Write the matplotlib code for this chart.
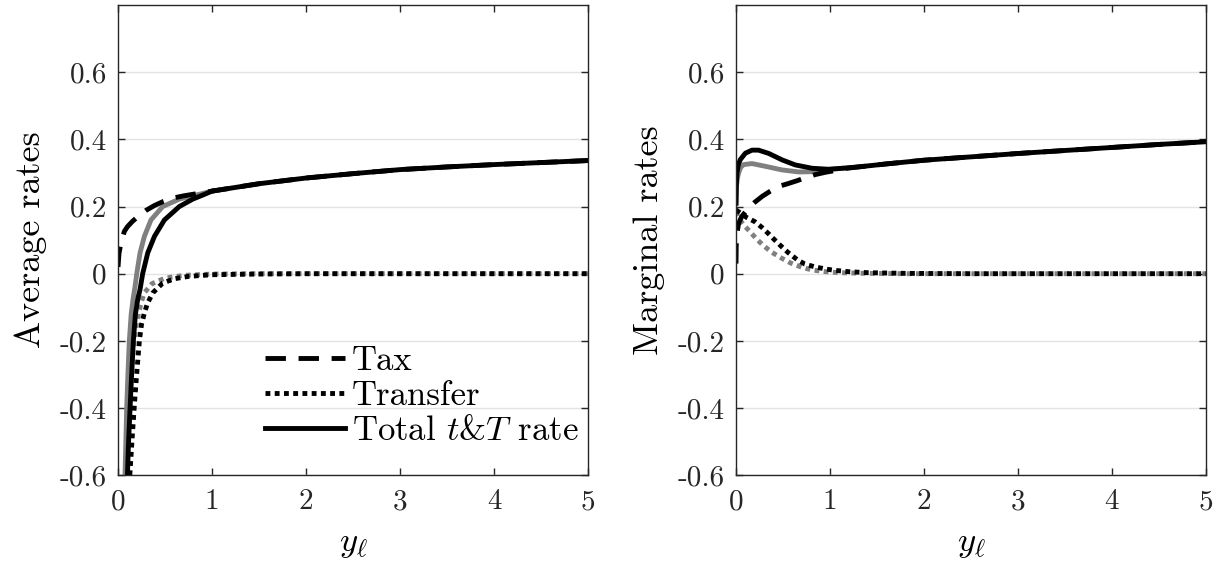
import matplotlib
matplotlib.use('Agg')
import matplotlib.pyplot as plt

plt.rcParams['font.family'] = 'cmr10'
plt.rcParams['mathtext.fontset'] = 'cm'
plt.rcParams['axes.unicode_minus'] = False
plt.rcParams['axes.formatter.use_mathtext'] = True

# ---- average rates (left panel) ----
avg_tax_x = [0.0, 0.01, 0.03, 0.067, 0.1, 0.15, 0.21, 0.3, 0.387, 0.48, 0.58, 0.7, 0.85, 1.0, 1.5, 2.0, 2.5, 3.0, 3.5, 4.0, 4.5, 5.0]
avg_tax_y = [0.02, 0.06, 0.09, 0.126, 0.14, 0.155, 0.17, 0.189, 0.203, 0.215, 0.225, 0.232, 0.239, 0.246, 0.268, 0.285, 0.298, 0.31, 0.318, 0.325, 0.331, 0.337]

avg_tot_x = [0.1, 0.11, 0.128, 0.142, 0.163, 0.185, 0.21, 0.234, 0.262, 0.316, 0.387, 0.493, 0.652, 0.794, 0.9, 1.0, 1.5, 2.0, 2.5, 3.0, 3.5, 4.0, 4.5, 5.0]
avg_tot_y = [-0.6, -0.514, -0.4, -0.315, -0.2, -0.12, -0.075, -0.047, 0.0, 0.062, 0.111, 0.16, 0.2, 0.222, 0.234, 0.246, 0.268, 0.285, 0.298, 0.31, 0.318, 0.325, 0.331, 0.337]

avg_tot2_x = [0.074, 0.083, 0.092, 0.105, 0.12, 0.14, 0.16, 0.18, 0.199, 0.234, 0.28, 0.35, 0.475, 0.65, 0.8, 0.9, 1.0]
avg_tot2_y = [-0.6, -0.5, -0.4, -0.3, -0.2, -0.12, -0.075, -0.04, 0.0, 0.062, 0.111, 0.16, 0.2, 0.222, 0.232, 0.239, 0.246]

avg_tr_x = [0.125, 0.15, 0.174, 0.195, 0.227, 0.25, 0.28, 0.315, 0.37, 0.475, 0.6, 0.75, 1.0, 1.5, 2.0, 5.0]
avg_tr_y = [-0.6, -0.49, -0.39, -0.31, -0.2, -0.15, -0.117, -0.087, -0.057, -0.028, -0.015, -0.008, -0.003, -0.001, 0.0, 0.0]

avg_tr2_x = [0.098, 0.105, 0.12, 0.14, 0.17, 0.195, 0.22, 0.245, 0.28, 0.36, 0.5, 0.7, 1.0, 1.5, 5.0]
avg_tr2_y = [-0.6, -0.5, -0.4, -0.3, -0.2, -0.15, -0.117, -0.087, -0.057, -0.03, -0.013, -0.005, -0.001, 0.0, 0.0]

# ---- marginal rates (right panel) ----
mar_tot_x = [0.0, 0.003, 0.01, 0.025, 0.046, 0.1, 0.17, 0.24, 0.35, 0.49, 0.63, 0.81, 0.99, 1.13, 1.3, 1.6, 2.0, 2.5, 3.0, 3.5, 4.0, 4.5, 5.0]
mar_tot_y = [0.21, 0.26, 0.3, 0.325, 0.34, 0.359, 0.368, 0.368, 0.358, 0.339, 0.324, 0.314, 0.311, 0.314, 0.318, 0.327, 0.338, 0.348, 0.358, 0.367, 0.376, 0.385, 0.393]

mar_tot2_x = [0.0, 0.005, 0.015, 0.028, 0.05, 0.082, 0.17, 0.31, 0.49, 0.67, 0.84, 0.99, 1.13]
mar_tot2_y = [0.21, 0.26, 0.285, 0.3, 0.317, 0.325, 0.328, 0.32, 0.309, 0.303, 0.304, 0.311, 0.314]

mar_tax_x = [0.0, 0.002, 0.01, 0.028, 0.06, 0.117, 0.2, 0.277, 0.36, 0.454, 0.55, 0.65, 0.75, 0.84, 0.95, 1.05, 1.15, 1.3, 1.6, 2.0, 2.5, 3.0, 3.5, 4.0, 4.5, 5.0]
mar_tax_y = [0.03, 0.08, 0.12, 0.15, 0.17, 0.19, 0.213, 0.23, 0.245, 0.26, 0.268, 0.277, 0.287, 0.295, 0.302, 0.307, 0.313, 0.318, 0.327, 0.338, 0.348, 0.358, 0.367, 0.376, 0.385, 0.393]

mar_tr_x = [0.0, 0.05, 0.11, 0.2, 0.275, 0.35, 0.41, 0.48, 0.55, 0.65, 0.73, 0.83, 0.95, 1.05, 1.2, 1.4, 1.8, 2.5, 5.0]
mar_tr_y = [0.19, 0.18, 0.168, 0.155, 0.138, 0.118, 0.101, 0.082, 0.064, 0.042, 0.029, 0.021, 0.014, 0.01, 0.006, 0.003, 0.001, 0.0, 0.0]

mar_tr2_x = [0.0, 0.025, 0.078, 0.14, 0.21, 0.29, 0.38, 0.48, 0.58, 0.7, 0.81, 0.95, 1.1, 1.4, 1.8, 5.0]
mar_tr2_y = [0.185, 0.167, 0.146, 0.128, 0.106, 0.084, 0.064, 0.047, 0.032, 0.019, 0.011, 0.006, 0.003, 0.001, 0.0, 0.0]

yticks = [-0.6, -0.4, -0.2, 0, 0.2, 0.4, 0.6]
ytick_labels = ['-0.6', '-0.4', '-0.2', '0', '0.2', '0.4', '0.6']
xticks = [0, 1, 2, 3, 4, 5]
xtick_labels = ['0', '1', '2', '3', '4', '5']

GRAY = '#808080'
LW = 3.5
DASH = (0, (4.2, 2.6))
DOT = (0, (1.0, 0.9))
FS = 21


def style_axes(ax, ylabel):
    ax.set_xlim(0, 5)
    ax.set_ylim(-0.6, 0.8)
    ax.set_xticks(xticks)
    ax.set_xticklabels(xtick_labels)
    ax.set_yticks(yticks)
    ax.set_yticklabels(ytick_labels)
    ax.grid(axis='y', color='#e3e3e3', linewidth=1.0)
    ax.set_axisbelow(True)
    ax.tick_params(direction='in', top=True, right=True, length=5, width=1,
                   colors='#262626', labelsize=FS, pad=8)
    ax.tick_params(axis='x', pad=10)
    for sp in ax.spines.values():
        sp.set_color('#262626')
        sp.set_linewidth(1.0)
    ax.set_ylabel(ylabel, fontsize=26, labelpad=9)
    ax.set_xlabel(r'$y_\ell$', fontsize=FS + 4, labelpad=9)


fig = plt.figure(figsize=(12.22, 5.67), dpi=100)
ax1 = fig.add_axes([0.0966, 0.162, 0.3846, 0.829])
ax2 = fig.add_axes([0.6023, 0.162, 0.3846, 0.829])

# left: average rates
ax1.plot(avg_tot2_x, avg_tot2_y, color=GRAY, lw=LW)
ax1.plot(avg_tr2_x, avg_tr2_y, color=GRAY, lw=LW, ls=DOT)
ax1.plot(avg_tax_x, avg_tax_y, color='k', lw=LW, ls=DASH, label='Tax')
ax1.plot(avg_tr_x, avg_tr_y, color='k', lw=LW, ls=DOT, label='Transfer')
ax1.plot(avg_tot_x, avg_tot_y, color='k', lw=LW, label=r'Total $t$&$T$ rate')
style_axes(ax1, 'Average rates')
ax1.legend(loc='lower left', bbox_to_anchor=(0.313, 0.06), frameon=False,
           fontsize=25, handlelength=2.3, handletextpad=0.2, labelspacing=0.1,
           borderaxespad=0, borderpad=0)

# right: marginal rates
ax2.plot(mar_tot2_x, mar_tot2_y, color=GRAY, lw=LW)
ax2.plot(mar_tr2_x, mar_tr2_y, color=GRAY, lw=LW, ls=DOT)
ax2.plot(mar_tax_x, mar_tax_y, color='k', lw=LW, ls=DASH)
ax2.plot(mar_tr_x, mar_tr_y, color='k', lw=LW, ls=DOT)
ax2.plot(mar_tot_x, mar_tot_y, color='k', lw=LW)
style_axes(ax2, 'Marginal rates')

fig.savefig('out.png', dpi=100)
